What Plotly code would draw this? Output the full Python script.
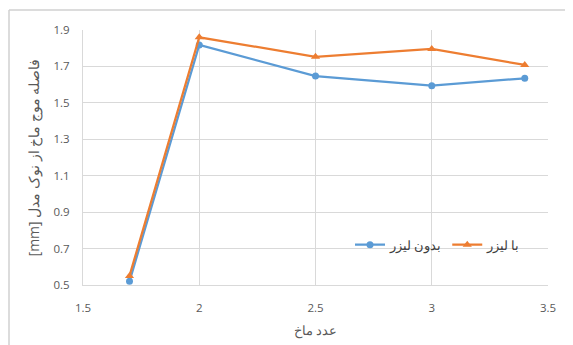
import plotly.graph_objects as go

mach = [1.7, 2.0, 2.5, 3.0, 3.4]
without_laser = [0.52, 1.818, 1.647, 1.594, 1.635]
with_laser = [0.55, 1.86, 1.753, 1.796, 1.708]

name_without = "بدون لیزر"
name_with = "با لیزر"
x_title = "عدد ماخ"
y_title = "[mm] فاصله موج ماخ از نوک مدل"

x_ticks = [1.5, 2, 2.5, 3, 3.5]
y_ticks = [0.5, 0.7, 0.9, 1.1, 1.3, 1.5, 1.7, 1.9]

W, H = 573, 345
OFF = 8  # page body offset
L, R, T, B = 83 - OFF, 25 + OFF, 30 - OFF, 60 + OFF
pw, ph = W - L - R, H - T - B
PL, PT = 83, 30  # plot-area page coords
PB = PT + ph

fig = go.Figure()
fig.add_trace(go.Scatter(x=mach, y=without_laser, name=name_without, mode="lines+markers",
                         line=dict(color="#5B9BD5", width=2.25),
                         marker=dict(symbol="circle", size=7, color="#5B9BD5")))
fig.add_trace(go.Scatter(x=mach, y=with_laser, name=name_with, mode="lines+markers",
                         line=dict(color="#ED7D31", width=2.25),
                         marker=dict(symbol="triangle-up", size=8, color="#ED7D31")))

font = dict(family="Open Sans, Liberation Sans, sans-serif", size=11.5, color="#595959")

fig.update_layout(
    width=W, height=H,
    margin=dict(l=L, r=R, t=T, b=B),
    paper_bgcolor="white", plot_bgcolor="white",
    font=font,
    showlegend=True,
    legend=dict(orientation="h", x=(350 - PL) / pw, y=(PB - 245) / ph, xanchor="left", yanchor="middle",
                bgcolor="rgba(0,0,0,0)", font=dict(size=12.5, color="#404040"),
                itemwidth=30, tracegroupgap=0),
    xaxis=dict(range=[1.5, 3.5], tickvals=x_ticks, ticktext=[str(v) for v in x_ticks],
               showgrid=True, gridcolor="#D9D9D9", gridwidth=1,
               showline=True, linecolor="#D9D9D9", mirror=False, zeroline=False,
               ticks="", ticklabelstandoff=12,
               title=dict(text=x_title, font=dict(size=12.5, color="#595959"), standoff=12)),
    yaxis=dict(range=[0.5, 1.9], tickvals=y_ticks, ticktext=[f"{v:.1f}" for v in y_ticks],
               showgrid=True, gridcolor="#D9D9D9", gridwidth=1,
               showline=True, linecolor="#D9D9D9", zeroline=False,
               ticks="", ticklabelstandoff=10,
               title=dict(text=y_title, font=dict(size=14, color="#595959"), standoff=10)),
)

# outer chart border (top and left edges visible)
bx0 = (OFF + 1 - PL) / pw
by1 = (PB - 10) / ph
fig.add_shape(type="line", xref="paper", yref="paper", x0=bx0, x1=(W - PL) / pw, y0=by1, y1=by1,
              line=dict(color="#D0D0D0", width=1.5), layer="above")
fig.add_shape(type="line", xref="paper", yref="paper", x0=bx0, x1=bx0, y0=(PB - H) / ph, y1=by1,
              line=dict(color="#D0D0D0", width=1.5), layer="above")

fig.write_html("out.html")
